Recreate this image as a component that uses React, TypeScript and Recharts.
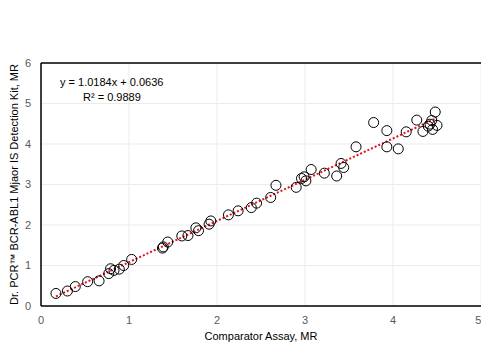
import React from 'react';
import {
  ScatterChart,
  Scatter,
  XAxis,
  YAxis,
  CartesianGrid,
  ReferenceLine,
} from 'recharts';

const comparatorX = [
  0.17, 0.3, 0.39, 0.53, 0.66, 0.77, 0.79, 0.83, 0.89, 0.94, 1.03, 1.38, 1.39,
  1.44, 1.6, 1.67, 1.76, 1.79, 1.91, 1.93, 2.13, 2.24, 2.39, 2.45, 2.61, 2.67,
  2.9, 2.96, 2.99, 3.01, 3.07, 3.22, 3.36, 3.41, 3.44, 3.58, 3.78, 3.93, 3.93,
  4.06, 4.15, 4.27, 4.34, 4.4, 4.42, 4.44, 4.45, 4.48, 4.5,
];
const kitY = [
  0.31, 0.37, 0.48, 0.6, 0.62, 0.8, 0.92, 0.88, 0.91, 1.0, 1.15, 1.43, 1.46,
  1.58, 1.73, 1.74, 1.93, 1.86, 2.02, 2.1, 2.25, 2.35, 2.43, 2.54, 2.68, 2.98,
  2.93, 3.15, 3.19, 3.09, 3.37, 3.28, 3.21, 3.52, 3.42, 3.93, 4.53, 4.33, 3.93,
  3.88, 4.3, 4.59, 4.31, 4.44, 4.49, 4.58, 4.36, 4.79, 4.46,
];
const trendStart = { x: 0.17, y: 0.237 };
const trendEnd = { x: 4.5, y: 4.646 };
const xTicks = [0, 1, 2, 3, 4, 5];
const yTicks = [0, 1, 2, 3, 4, 5, 6];
const equationText = 'y = 1.0184x + 0.0636';
const rSquaredText = 'R² = 0.9889';
const xTitle = 'Comparator Assay, MR';
const yTitle = 'Dr. PCR™ BCR-ABL1 Mjaor IS Detection Kit, MR';

const points = comparatorX.map((x, i) => ({ x, y: kitY[i] }));

const FONT = '"Liberation Sans", Arial, sans-serif';

const OpenCircle = (props: any) => {
  const { cx, cy } = props;
  if (cx == null || cy == null) return null;
  return <circle cx={cx} cy={cy} r={5} fill="none" stroke="#000" strokeWidth={1} />;
};

export default function App() {
  return (
    <div style={{ position: 'absolute', left: 0, top: 0, width: 481, height: 344, background: '#fff' }}>
      <ScatterChart
        width={481}
        height={344}
        margin={{ top: 63, right: 0, bottom: 0, left: 0 }}
        style={{ fontFamily: FONT }}
      >
        <CartesianGrid stroke="#ebebeb" strokeWidth={1} />
        <XAxis
          type="number"
          dataKey="x"
          domain={[0, 5]}
          ticks={xTicks}
          height={38}
          axisLine={{ stroke: '#000', strokeWidth: 1.5 }}
          tickLine={false}
          tick={{ fill: '#595959', fontSize: 11, fontFamily: FONT }}
          tickMargin={4}
          allowDataOverflow
          label={{
            value: xTitle,
            position: 'insideBottom',
            offset: 4,
            style: { fill: '#000', fontSize: 11, fontFamily: FONT },
          }}
        />
        <YAxis
          type="number"
          dataKey="y"
          domain={[0, 6]}
          ticks={yTicks}
          width={41}
          axisLine={{ stroke: '#000', strokeWidth: 1.5 }}
          tickLine={false}
          tick={{ fill: '#595959', fontSize: 11, fontFamily: FONT }}
          tickMargin={4}
          label={{
            value: yTitle,
            angle: -90,
            position: 'insideLeft',
            offset: 14,
            style: { fill: '#000', fontSize: 11, fontFamily: FONT, textAnchor: 'middle' },
          }}
        />
        <ReferenceLine y={6} stroke="#000" strokeWidth={1.5} />
        <Scatter data={points} shape={OpenCircle} isAnimationActive={false} />
        <ReferenceLine
          segment={[trendStart, trendEnd]}
          stroke="#e3101c"
          strokeWidth={2}
          strokeDasharray="2 2"
        />
      </ScatterChart>
      <div
        style={{
          position: 'absolute',
          left: 60,
          top: 75,
          fontFamily: FONT,
          fontSize: 11,
          color: '#000',
          lineHeight: '15px',
          whiteSpace: 'nowrap',
        }}
      >
        <div>{equationText}</div>
        <div style={{ paddingLeft: 23 }}>{rSquaredText}</div>
      </div>
    </div>
  );
}
